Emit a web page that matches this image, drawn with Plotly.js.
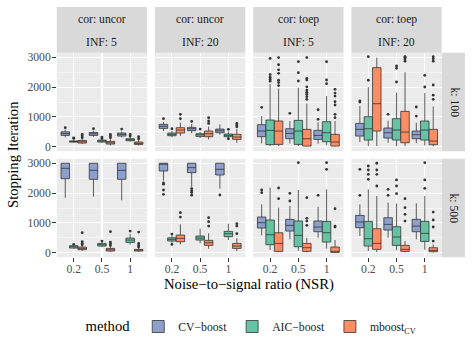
<!DOCTYPE html>
<html>
<head>
<meta charset="utf-8">
<script src="https://cdn.plot.ly/plotly-3.0.1.min.js"></script>
<style>
html, body { margin: 0; padding: 0; background: #fff; }
#chart { width: 472px; height: 354px; }
</style>
</head>
<body>
<div id="chart"></div>
<script>
var nsrLabels = ['0.2', '0.5', '1'];
var corLabels = ['cor: uncor', 'cor: uncor', 'cor: toep', 'cor: toep'];
var infLabels = ['INF: 5', 'INF: 20', 'INF: 5', 'INF: 20'];
var kLabels = ['k: 100', 'k: 500'];
var methodNames = ['CV\u2212boost', 'AIC\u2212boost', 'mboost<sub>CV</sub>'];
var methodColors = ['#8DA0CB', '#66C2A5', '#FC8D62'];

// panels in order: k100 (uncor 5, uncor 20, toep 5, toep 20), then k500; 3 NSR each
// each box: [lowerfence, q1, median, q3, upperfence]
var cvBoost = [
  [320, 380, 440, 500, 580], [336, 380, 436, 481, 537], [313, 358, 414, 459, 515],
  [526, 615, 683, 750, 828], [448, 537, 604, 649, 760], [403, 470, 537, 593, 750],
  [112, 336, 526, 738, 1029], [112, 268, 448, 604, 862], [100, 246, 380, 548, 820],
  [157, 358, 582, 783, 1365], [134, 291, 470, 627, 873], [120, 268, 403, 526, 806],
  [1846, 2484, 2831, 3000, 3000], [1880, 2462, 2764, 3000, 3000], [1757, 2462, 2764, 3000, 3000],
  [2420, 2742, 3000, 3000, 3000], [2200, 2686, 2853, 3000, 3000], [2150, 2607, 2798, 3000, 3000],
  [582, 828, 1007, 1197, 1623], [448, 727, 918, 1119, 1567], [503, 705, 862, 1063, 1544],
  [560, 839, 1030, 1253, 1623], [503, 761, 951, 1175, 1679], [448, 705, 895, 1119, 1656]
];
var cvOut = [
  [640], [604], [593],
  [940], [850], [],
  [1320], [1119], [918, 1240],
  [1500, 1533], [1085], [1029, 1332],
  [], [], [],
  [2340, 2300, 2104, 1958], [2150, 2080, 2020, 1930], [1936],
  [2014, 2104], [1734, 1992], [1925],
  [1925, 2798], [1925, 2126], []
];

var aicBoost = [
  [130, 155, 175, 195, 230], [140, 157, 190, 224, 260], [170, 201, 235, 268, 330],
  [313, 369, 414, 459, 540], [291, 347, 403, 436, 500], [300, 336, 380, 425, 515],
  [20, 70, 548, 895, 2100], [20, 78, 526, 884, 1980], [50, 168, 470, 839, 1700],
  [20, 224, 604, 1007, 2000], [20, 224, 560, 940, 1813], [40, 224, 560, 862, 1800],
  [130, 157, 201, 235, 250], [190, 224, 268, 313, 350], [268, 347, 425, 492, 638],
  [330, 392, 448, 503, 580], [313, 425, 492, 560, 806], [425, 537, 638, 716, 974],
  [90, 268, 604, 1097, 2182], [60, 201, 582, 1063, 2104], [134, 358, 671, 1052, 2126],
  [56, 224, 470, 1052, 2126], [80, 246, 526, 873, 1650], [100, 380, 649, 1052, 1902]
];
var aicOut = [
  [280, 300], [280, 324], [358, 414],
  [604], [593], [268, 582],
  [2200, 2260, 2330, 2420, 2960], [2204, 2484, 2853], [2115, 2238, 2853],
  [2230, 3020], [2171, 2630, 2708], [2003, 2394],
  [280], [392], [727],
  [280, 627], [], [],
  [], [3021], [2798, 3021],
  [2462, 2630, 2775, 2909], [1981, 2238, 2440], [2160, 2440, 3021]
];

var mboostCV = [
  [90, 123, 168, 212, 268], [40, 90, 134, 179, 250], [40, 78, 112, 157, 230],
  [358, 459, 560, 638, 806], [246, 336, 436, 526, 671], [134, 246, 324, 414, 600],
  [20, 78, 526, 862, 1950], [10, 22, 268, 582, 1450], [10, 22, 157, 414, 862],
  [22, 526, 1443, 2652, 2988], [20, 134, 492, 1186, 2500], [10, 67, 190, 582, 1350],
  [60, 101, 145, 190, 240], [30, 56, 101, 145, 220], [40, 56, 90, 112, 170],
  [280, 369, 481, 593, 951], [134, 246, 336, 414, 649], [56, 145, 224, 313, 481],
  [20, 45, 313, 671, 1511], [10, 45, 168, 313, 503], [0, 11, 34, 190, 425],
  [20, 112, 313, 806, 1902], [10, 45, 112, 246, 392], [5, 34, 78, 168, 280]
];
var mboostOut = [
  [302, 358, 414], [302, 358, 414], [268, 336],
  [940, 1085], [783, 862, 974], [671, 727, 783],
  [2050, 2150, 2230, 2460, 2580, 2750, 2990], [1590, 1680, 1760, 1830, 1900, 2010, 2240, 2290, 2990], [974, 1085, 1400, 1510, 1700, 1800, 1924],
  [], [2870, 2950, 3000, 3020], [1590, 1730, 2070, 2870, 2950, 3020],
  [268, 313, 369, 671], [246, 302, 358, 705], [190, 246, 313, 694],
  [1197, 1343], [895, 1041, 1175], [638, 895, 974],
  [1813, 2171], [918, 1063, 1153, 1846], [862, 895, 1477],
  [2238, 2630, 2775, 3000], [1063, 1287, 1511, 1813], [392, 862, 1097, 1365]
];

var boxSets = [cvBoost, aicBoost, mboostCV];
var outSets = [cvOut, aicOut, mboostOut];
var offsets = [-0.3, 0, 0.3];

var W = 472, H = 354;
var panelLeft = [56.8, 155.0, 253.2, 351.4];
var panelW = 90.3;
var rowTop = [52.8, 158.8];
var rowH = 98.4;
var font = '"Liberation Serif", "Times New Roman", serif';

var data = [];
var layout = {
  width: W, height: H,
  margin: {l: 0, r: 0, t: 0, b: 0},
  paper_bgcolor: '#fff',
  plot_bgcolor: '#EBEBEB',
  font: {family: font, size: 11.7, color: '#4D4D4D'},
  showlegend: true,
  legend: {
    orientation: 'h',
    x: 0.535, xanchor: 'center',
    y: 1 - 327 / H, yanchor: 'middle',
    font: {size: 11.7, color: '#1A1A1A'},
    title: {text: 'method', side: 'left', font: {size: 14.7, color: '#000'}},
    bgcolor: 'rgba(0,0,0,0)'
  },
  shapes: [],
  annotations: []
};

for (var p = 0; p < 8; p++) {
  var row = Math.floor(p / 4), col = p % 4;
  var n = p + 1;
  var xs = n === 1 ? '' : String(n);
  var xd = [panelLeft[col] / W, (panelLeft[col] + panelW) / W];
  var yd = [1 - (rowTop[row] + rowH) / H, 1 - rowTop[row] / H];

  layout['xaxis' + xs] = {
    domain: xd, anchor: 'y' + xs,
    range: [0.4, 3.6],
    tickvals: [1, 2, 3], ticktext: nsrLabels,
    showticklabels: row === 1,
    ticks: row === 1 ? 'outside' : '',
    ticklen: 3.7, tickcolor: '#333333', tickwidth: 1,
    ticklabelstandoff: -3,
    showgrid: true, gridcolor: '#fff', gridwidth: 1.1,
    zeroline: false, showline: false, fixedrange: true
  };
  layout['yaxis' + xs] = {
    domain: yd, anchor: 'x' + xs,
    range: [-150, 3150],
    tick0: 0, dtick: 1000,
    showticklabels: col === 0,
    ticks: col === 0 ? 'outside' : '',
    ticklen: 3.7, tickcolor: '#333333', tickwidth: 1,
    ticklabelstandoff: -1,
    showgrid: true, gridcolor: '#fff', gridwidth: 1.1,
    minor: {dtick: 500, showgrid: true, gridcolor: '#fff', gridwidth: 0.5},
    zeroline: false, showline: false, fixedrange: true
  };

  for (var m = 0; m < 3; m++) {
    var pos = [], q1 = [], med = [], q3 = [], lo = [], hi = [];
    var ox = [], oy = [];
    for (var k = 0; k < 3; k++) {
      var b = boxSets[m][p * 3 + k];
      var x = k + 1 + offsets[m];
      pos.push(x);
      lo.push(b[0]); q1.push(b[1]); med.push(b[2]); q3.push(b[3]); hi.push(b[4]);
      outSets[m][p * 3 + k].forEach(function (v) { ox.push(x); oy.push(v); });
    }
    data.push({
      type: 'box',
      name: methodNames[m],
      legendgroup: methodNames[m],
      showlegend: p === 0,
      xaxis: 'x' + xs, yaxis: 'y' + xs,
      x: pos, q1: q1, median: med, q3: q3, lowerfence: lo, upperfence: hi,
      width: 0.3,
      whiskerwidth: 0,
      boxpoints: false,
      fillcolor: methodColors[m],
      line: {color: '#333333', width: 0.8},
      hoverinfo: 'skip'
    });
    data.push({
      type: 'scatter', mode: 'markers',
      xaxis: 'x' + xs, yaxis: 'y' + xs,
      x: ox, y: oy,
      showlegend: false,
      marker: {color: '#333333', size: 2.8},
      hoverinfo: 'skip'
    });
  }
}

// strips on top
for (var c = 0; c < 4; c++) {
  var xa = panelLeft[c] / W, xb = (panelLeft[c] + panelW) / W;
  layout.shapes.push({
    type: 'rect', xref: 'paper', yref: 'paper',
    x0: xa, x1: xb, y0: 1 - rowTop[0] / H, y1: 1 - 7 / H,
    fillcolor: '#D9D9D9', line: {width: 0}, layer: 'below'
  });
  layout.annotations.push({
    xref: 'paper', yref: 'paper', x: (xa + xb) / 2, y: 1 - 19.5 / H,
    text: corLabels[c], showarrow: false, xanchor: 'center', yanchor: 'middle',
    font: {size: 11.7, color: '#1A1A1A'}
  });
  layout.annotations.push({
    xref: 'paper', yref: 'paper', x: (xa + xb) / 2, y: 1 - 42.5 / H,
    text: infLabels[c], showarrow: false, xanchor: 'center', yanchor: 'middle',
    font: {size: 11.7, color: '#1A1A1A'}
  });
}
// strips on the right
for (var r = 0; r < 2; r++) {
  var ya = 1 - (rowTop[r] + rowH) / H, yb = 1 - rowTop[r] / H;
  layout.shapes.push({
    type: 'rect', xref: 'paper', yref: 'paper',
    x0: (panelLeft[3] + panelW) / W, x1: 465 / W, y0: ya, y1: yb,
    fillcolor: '#D9D9D9', line: {width: 0}, layer: 'below'
  });
  layout.annotations.push({
    xref: 'paper', yref: 'paper', x: 453.5 / W, y: (ya + yb) / 2,
    text: kLabels[r], showarrow: false, textangle: 90,
    xanchor: 'center', yanchor: 'middle',
    font: {size: 11.7, color: '#1A1A1A'}
  });
}
// axis titles
layout.annotations.push({
  xref: 'paper', yref: 'paper', x: 13 / W, y: 1 - 155 / H,
  text: 'Stopping Iteration', showarrow: false, textangle: -90,
  xanchor: 'center', yanchor: 'middle',
  font: {size: 14.7, color: '#000'}
});
layout.annotations.push({
  xref: 'paper', yref: 'paper', x: 249 / W, y: 1 - 284 / H,
  text: 'Noise\u2212to\u2212signal ratio (NSR)', showarrow: false,
  xanchor: 'center', yanchor: 'middle',
  font: {size: 14.7, color: '#000'}
});

Plotly.newPlot('chart', data, layout, {displayModeBar: false, staticPlot: true});
</script>
</body>
</html>
